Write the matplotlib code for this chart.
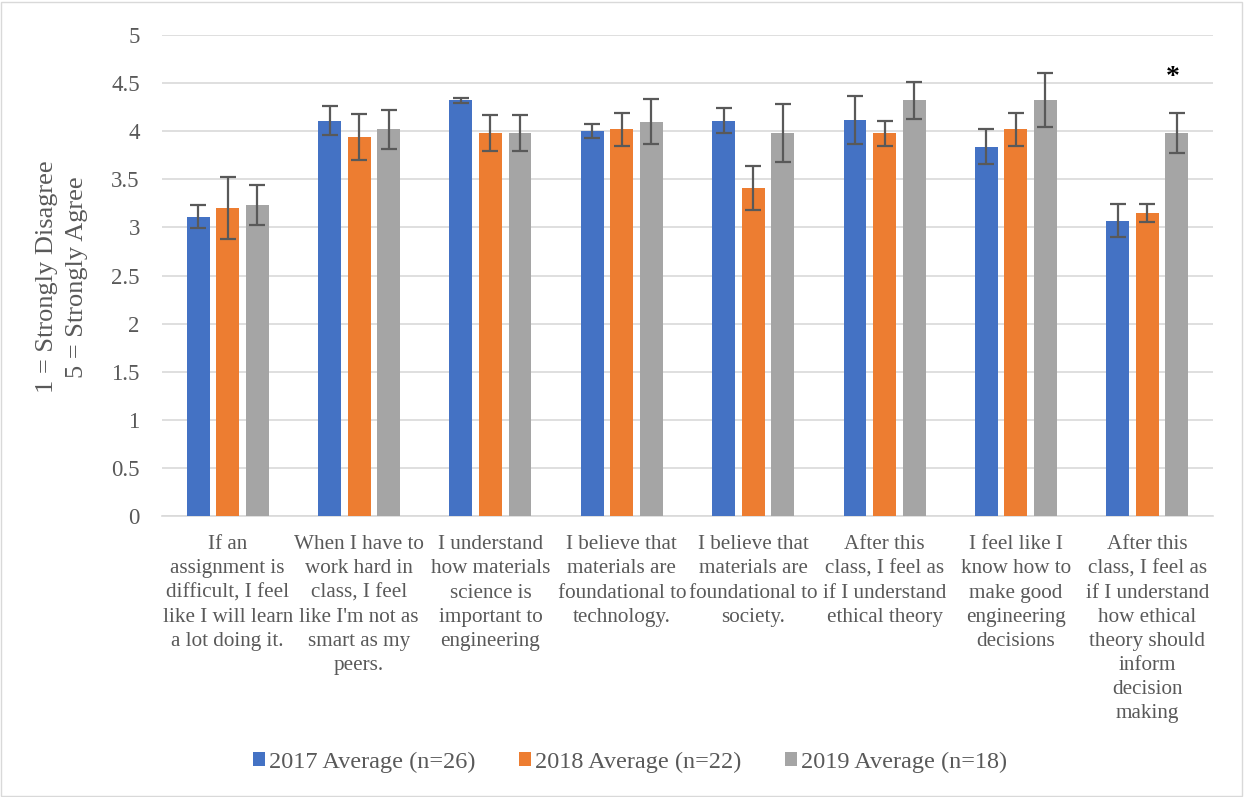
import matplotlib
matplotlib.use("Agg")
import matplotlib.pyplot as plt
import numpy as np
from matplotlib.patches import Rectangle

categories = [
    "If an\nassignment is\ndifficult, I feel\nlike I will learn\na lot doing it.",
    "When I have to\nwork hard in\nclass, I feel\nlike I'm not as\nsmart as my\npeers.",
    "I understand\nhow materials\nscience is\nimportant to\nengineering",
    "I believe that\nmaterials are\nfoundational to\ntechnology.",
    "I believe that\nmaterials are\nfoundational to\nsociety.",
    "After this\nclass, I feel as\nif I understand\nethical theory",
    "I feel like I\nknow how to\nmake good\nengineering\ndecisions",
    "After this\nclass, I feel as\nif I understand\nhow ethical\ntheory should\ninform\ndecision\nmaking",
]
series_names = ["2017 Average (n=26)", "2018 Average (n=22)", "2019 Average (n=18)"]
avg_2017 = [3.11, 4.11, 4.32, 4.00, 4.11, 4.12, 3.84, 3.07]
err_2017 = [0.12, 0.15, 0.03, 0.07, 0.13, 0.25, 0.18, 0.17]
avg_2018 = [3.20, 3.94, 3.98, 4.02, 3.41, 3.98, 4.02, 3.15]
err_2018 = [0.32, 0.24, 0.19, 0.17, 0.23, 0.13, 0.17, 0.09]
avg_2019 = [3.23, 4.02, 3.98, 4.10, 3.98, 4.32, 4.32, 3.98]
err_2019 = [0.21, 0.20, 0.19, 0.23, 0.30, 0.19, 0.28, 0.21]
yticks = [0, 0.5, 1, 1.5, 2, 2.5, 3, 3.5, 4, 4.5, 5]
ytick_labels = ["0", "0.5", "1", "1.5", "2", "2.5", "3", "3.5", "4", "4.5", "5"]

colors = ["#4472C4", "#ED7D31", "#A5A5A5"]
plt.rcParams['font.family'] = ['Liberation Serif', 'DejaVu Serif']

fig = plt.figure(figsize=(12.44, 7.97), dpi=100)
W, H = 1244, 797
ax = fig.add_axes([162 / W, 1 - 516 / H, (1213 - 162) / W, (516 - 35) / H])

x = np.arange(len(categories))
bw = 0.175
sp = 0.225
data = [(avg_2017, err_2017), (avg_2018, err_2018), (avg_2019, err_2019)]
for i, (vals, errs) in enumerate(data):
    ax.bar(x + (i - 1) * sp, vals, bw, color=colors[i], label=series_names[i], zorder=3,
           yerr=errs, error_kw=dict(ecolor="#595959", elinewidth=1.6, capsize=5.5, capthick=1.6, zorder=4))

ax.set_xlim(-0.5, len(categories) - 0.5)
ax.set_ylim(0, 5)
ax.set_yticks(yticks)
ax.set_yticklabels(ytick_labels)
ax.yaxis.grid(True, color="#D9D9D9", linewidth=1.2, zorder=0)
ax.set_axisbelow(True)
for s in ["top", "right", "left"]:
    ax.spines[s].set_visible(False)
ax.spines["bottom"].set_color("#D9D9D9")
ax.spines["bottom"].set_linewidth(1.2)
ax.tick_params(axis="y", length=0, pad=16, labelsize=16.5, labelcolor="#595959")
ax.tick_params(axis="x", length=0, pad=14, labelsize=15.2, labelcolor="#595959")
ax.set_xticks(x)
ax.set_xticklabels(categories, va="top", ha="center", linespacing=1.36)

ax.text(x[7] + sp - 0.03, 4.56, "*", ha="center", va="center", fontsize=20, fontweight="bold", color="black")

fig.text(62 / W, 1 - 277 / H, "1 = Strongly Disagree\n5 = Strongly Agree", rotation=90,
         ha="center", va="center", fontsize=19, color="#595959", linespacing=1.45)

leg = fig.legend(loc="center", bbox_to_anchor=(630 / W, 1 - 762 / H), ncol=3, frameon=False,
                 fontsize=17.5, handlelength=0.5, handleheight=0.5, handletextpad=0.15,
                 columnspacing=1.8)
for t in leg.get_texts():
    t.set_color("#595959")

fig.patches.append(Rectangle((1 / W, 1 / H), 1 - 3 / W, 1 - 3 / H, transform=fig.transFigure,
                             fill=False, edgecolor="#D9D9D9", linewidth=1))

fig.savefig("out.png", dpi=100, facecolor="white")
